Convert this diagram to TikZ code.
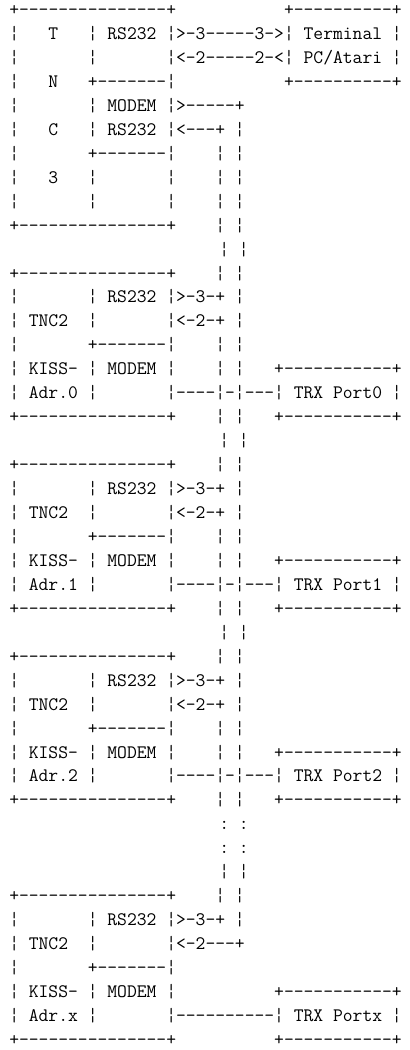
\documentclass[tikz,border=0pt]{standalone}
\usepackage{tikz}

\newcommand{\asciifont}{\ttfamily\fontsize{14.29pt}{17pt}\selectfont\frenchspacing}

\begin{document}
\begin{tikzpicture}[
    x=7.5pt, y=-17.9625pt,
    ascii/.style={anchor=base west, inner sep=0pt, font=\asciifont}
]

\useasboundingbox (-0.9,0.35) rectangle (40,44.19);


% TNC3 und Terminal

\node[ascii] (l1)  at (0,1)  {+---------------+~~~~~~~~~~~+----------+};
\node[ascii] (l2)  at (0,2)  {¦~~~T~~~¦~RS232~¦>-3-----3->¦~Terminal~¦};
\node[ascii] (l3)  at (0,3)  {¦~~~~~~~¦~~~~~~~¦<-2-----2-<¦~PC/Atari~¦};
\node[ascii] (l4)  at (0,4)  {¦~~~N~~~+-------¦~~~~~~~~~~~+----------+};
\node[ascii] (l5)  at (0,5)  {¦~~~~~~~¦~MODEM~¦>-----+};
\node[ascii] (l6)  at (0,6)  {¦~~~C~~~¦~RS232~¦<---+~¦};
\node[ascii] (l7)  at (0,7)  {¦~~~~~~~+-------¦~~~~¦~¦};
\node[ascii] (l8)  at (0,8)  {¦~~~3~~~¦~~~~~~~¦~~~~¦~¦};
\node[ascii] (l9)  at (0,9)  {¦~~~~~~~¦~~~~~~~¦~~~~¦~¦};
\node[ascii] (l10) at (0,10) {+---------------+~~~~¦~¦};


% TNC2 mit KISS-Adresse 0..2

\foreach \a [count=\k from 0] in {0,1,2} {
    \pgfmathtruncatemacro{\r}{12+8*\k}
    \node[ascii] (bus\a)   at (21,\r-1) {¦~¦};
    \node[ascii] (top\a)   at (0,\r)   {+---------------+~~~~¦~¦};
    \node[ascii] (rs\a)    at (0,\r+1) {¦~~~~~~~¦~RS232~¦>-3-+~¦};
    \node[ascii] (tnc\a)   at (0,\r+2) {¦~TNC2~~¦~~~~~~~¦<-2-+~¦};
    \node[ascii] (mid\a)   at (0,\r+3) {¦~~~~~~~+-------¦~~~~¦~¦};
    \node[ascii] (kiss\a)  at (0,\r+4) {¦~KISS-~¦~MODEM~¦~~~~¦~¦~~~+-----------+};
    \node[ascii] (adr\a)   at (0,\r+5) {¦~Adr.\a~¦~~~~~~~¦----¦-¦---¦~TRX~Port\a~¦};
    \node[ascii] (bot\a)   at (0,\r+6) {+---------------+~~~~¦~¦~~~+-----------+};
}


% Fortsetzung

\node[ascii] (dots1) at (21,35) {:~:};
\node[ascii] (dots2) at (21,36) {:~:};
\node[ascii] (bus)   at (21,37) {¦~¦};


% TNC2 mit KISS-Adresse x

\node[ascii] (topx)  at (0,38) {+---------------+~~~~¦~¦};
\node[ascii] (rsx)   at (0,39) {¦~~~~~~~¦~RS232~¦>-3-+~¦};
\node[ascii] (tncx)  at (0,40) {¦~TNC2~~¦~~~~~~~¦<-2---+};
\node[ascii] (midx)  at (0,41) {¦~~~~~~~+-------¦};
\node[ascii] (kissx) at (0,42) {¦~KISS-~¦~MODEM~¦~~~~~~~~~~+-----------+};
\node[ascii] (adrx)  at (0,43) {¦~Adr.x~¦~~~~~~~¦----------¦~TRX~Portx~¦};
\node[ascii] (botx)  at (0,44) {+---------------+~~~~~~~~~~+-----------+};

\end{tikzpicture}
\end{document}
